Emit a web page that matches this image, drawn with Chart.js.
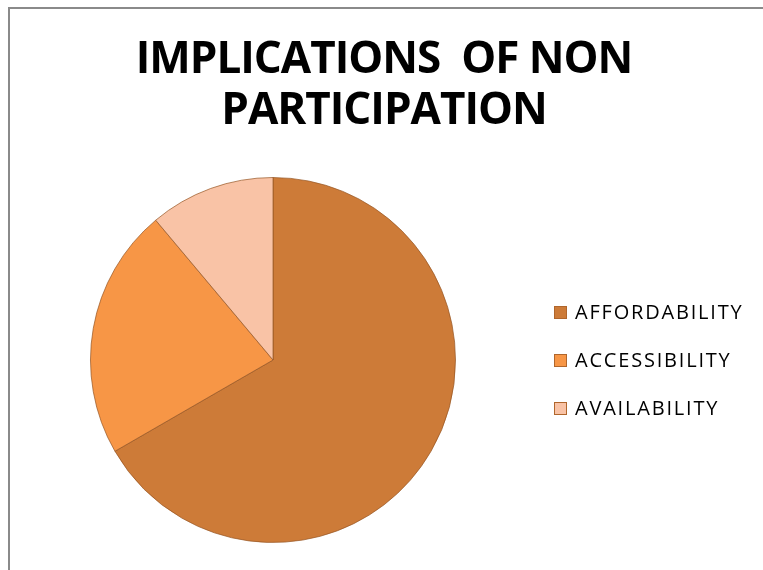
<!DOCTYPE html>
<html>
<head>
<meta charset="utf-8">
<script src="https://cdn.jsdelivr.net/npm/chart.js@4/dist/chart.umd.min.js"></script>
<style>
  html, body { margin: 0; padding: 0; background: #fff; }
  canvas { display: block; }
</style>
</head>
<body>
<canvas id="c" width="763" height="570"></canvas>
<script>
const titleLines = ['IMPLICATIONS  OF NON', 'PARTICIPATION'];
const categories = ['AFFORDABILITY', 'ACCESSIBILITY', 'AVAILABILITY'];
const values = [60, 20, 10];
const sliceColors = ['#CD7B38', '#F79646', '#F9C3A6'];

const decor = {
  id: 'decor',
  beforeDraw(chart) {
    const ctx = chart.ctx;
    ctx.save();
    ctx.fillStyle = '#ffffff';
    ctx.fillRect(0, 0, chart.width, chart.height);
    ctx.strokeStyle = '#8a8a8a';
    ctx.lineWidth = 2;
    ctx.beginPath();
    ctx.moveTo(9, chart.height);
    ctx.lineTo(9, 8);
    ctx.lineTo(chart.width, 8);
    ctx.stroke();
    ctx.restore();
  },
  afterDraw(chart) {
    const ctx = chart.ctx;
    ctx.save();
    // title
    ctx.fillStyle = '#000';
    ctx.textAlign = 'center';
    ctx.textBaseline = 'middle';
    ctx.font = 'bold 44px "Open Sans", sans-serif';
    ctx.letterSpacing = '-1px';
    titleLines.forEach((t, i) => ctx.fillText(t, 384, 60 + i * 51));
    // legend
    const ds = chart.data.datasets[0];
    ctx.font = '20px "Open Sans", sans-serif';
    ctx.letterSpacing = '1.8px';
    ctx.textAlign = 'left';
    chart.data.labels.forEach((lab, i) => {
      const y = 312 + i * 48;
      ctx.fillStyle = ds.backgroundColor[i];
      ctx.fillRect(554, y - 6, 13, 13);
      ctx.strokeStyle = '#B0662C';
      ctx.lineWidth = 1;
      ctx.strokeRect(554.5, y - 5.5, 12, 12);
      ctx.fillStyle = '#000';
      ctx.fillText(lab, 575, y + 1);
    });
    ctx.restore();
  }
};

new Chart(document.getElementById('c'), {
  type: 'pie',
  data: {
    labels: categories,
    datasets: [{
      data: values,
      backgroundColor: sliceColors,
      borderColor: 'rgba(150,85,35,0.7)',
      borderWidth: 1
    }]
  },
  options: {
    responsive: false,
    animation: false,
    layout: { padding: { left: 90, right: 307, top: 177, bottom: 27 } },
    plugins: {
      legend: { display: false },
      title: { display: false },
      tooltip: { enabled: false }
    }
  },
  plugins: [decor]
});
</script>
</body>
</html>
